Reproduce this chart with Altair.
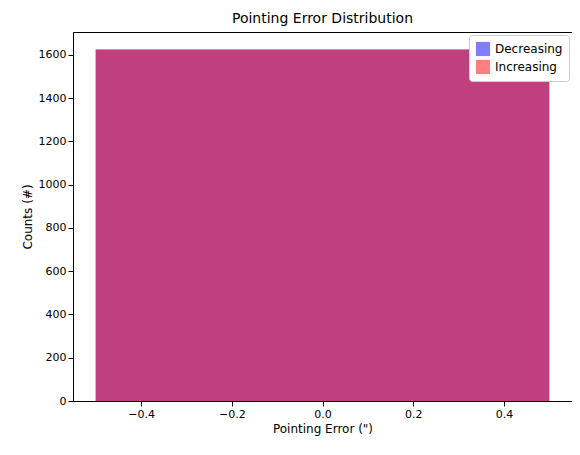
import altair as alt
import pandas as pd

series = ["Decreasing", "Increasing"]
bin_start = [-0.5, -0.5]
bin_end = [0.5, 0.5]
counts = [1625, 1625]

df = pd.DataFrame({"series": series, "start": bin_start, "end": bin_end, "count": counts, "base": [0, 0]})

chart = alt.Chart(df).mark_rect(opacity=0.5).encode(
    x=alt.X("start:Q", scale=alt.Scale(domain=[-0.55, 0.55], nice=False, zero=False),
            axis=alt.Axis(values=[-0.4, -0.2, 0.0, 0.2, 0.4], format=".1f", grid=False,
                          title='Pointing Error (")')),
    x2="end:Q",
    y=alt.Y("count:Q", stack=None, scale=alt.Scale(domain=[0, 1706], nice=False),
            axis=alt.Axis(values=list(range(0, 1601, 200)), format="d", grid=False, title="Counts (#)")),
    y2="base:Q",
    color=alt.Color("series:N", scale=alt.Scale(domain=series, range=["#0000ff", "#ff0000"]),
                    legend=alt.Legend(title=None, orient="top-right", symbolType="square",
                                      symbolOpacity=0.5, symbolSize=200, fillColor="white",
                                      strokeColor="#cccccc", padding=6, labelFontSize=12,
                                      offset=3, cornerRadius=3)),
).properties(
    width=499, height=369,
    title=alt.TitleParams("Pointing Error Distribution", fontSize=14, fontWeight="normal", offset=6),
    autosize="none",
    padding={"left": 65, "top": 24, "right": 0, "bottom": 46},
).configure_view(stroke="black").configure_axis(
    labelFontSize=11, titleFontSize=12, titleFontWeight="normal", domainColor="black",
    tickColor="black", labelColor="black", titleColor="black", labelFont="DejaVu Sans",
    titleFont="DejaVu Sans",
).configure_legend(labelFont="DejaVu Sans").configure_title(font="DejaVu Sans")

chart.save("out.html", embed_options={"renderer": "svg", "actions": False})
